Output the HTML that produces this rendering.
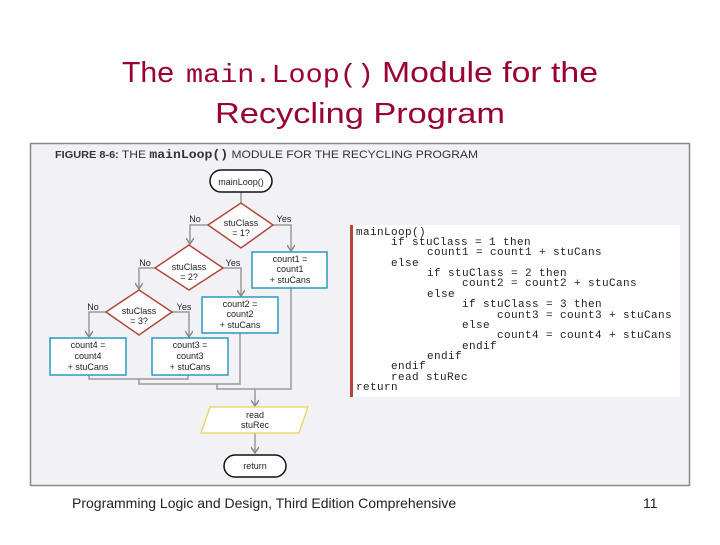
<!DOCTYPE html>
<html><head><meta charset="utf-8"><style>
body{margin:0;width:720px;height:540px;background:#fff;overflow:hidden;font-family:"Liberation Sans",sans-serif}
</style></head><body>
<svg width="720" height="540" xmlns="http://www.w3.org/2000/svg" font-family="Liberation Sans, sans-serif">
<defs><marker id="a" markerWidth="8" markerHeight="8" refX="7" refY="4" orient="auto" markerUnits="userSpaceOnUse"><path d="M1,0 L7,4 L1,8" fill="none" stroke="#888" stroke-width="1.5"/></marker></defs>
<g fill="#990033" font-size="29">
<text x="122" y="82" textLength="52" lengthAdjust="spacingAndGlyphs">The</text>
<text x="186" y="82" font-family="Liberation Mono, monospace" font-size="26" textLength="188" lengthAdjust="spacingAndGlyphs">main.Loop()</text>
<text x="382" y="82" textLength="216" lengthAdjust="spacingAndGlyphs">Module for the</text>
<text x="215" y="123" textLength="290" lengthAdjust="spacingAndGlyphs">Recycling Program</text>
</g>
<rect x="30.5" y="143.5" width="659" height="342" fill="#f2f2f6" stroke="#888" stroke-width="1.5"/>
<text x="55" y="158" font-size="11" fill="#333" textLength="423" lengthAdjust="spacingAndGlyphs"><tspan font-weight="bold" font-size="10">FIGURE 8-6:</tspan> THE <tspan font-family="Liberation Mono, monospace" font-weight="bold" font-size="12">mainLoop()</tspan> MODULE FOR THE RECYCLING PROGRAM</text>
<rect x="350" y="225" width="330" height="172" fill="#fff"/>
<rect x="350" y="225" width="3" height="172" fill="#b0473a"/>
<g font-family="Liberation Mono, monospace" font-size="11" letter-spacing="0.4" fill="#222">
<text x="356" y="235">mainLoop()</text>
<text x="391" y="245">if stuClass = 1 then</text>
<text x="427" y="255">count1 = count1 + stuCans</text>
<text x="391" y="266">else</text>
<text x="427" y="276">if stuClass = 2 then</text>
<text x="462" y="286">count2 = count2 + stuCans</text>
<text x="427" y="297">else</text>
<text x="462" y="307">if stuClass = 3 then</text>
<text x="497" y="318">count3 = count3 + stuCans</text>
<text x="462" y="328">else</text>
<text x="497" y="338">count4 = count4 + stuCans</text>
<text x="462" y="349">endif</text>
<text x="427" y="359">endif</text>
<text x="391" y="369">endif</text>
<text x="391" y="380">read stuRec</text>
<text x="356" y="390">return</text>
</g>
<g fill="none" stroke="#999" stroke-width="1.5">
<path d="M241,192 V203"/>
<path d="M208,225 H190 V244" marker-end="url(#a)"/>
<path d="M272,225 H291 V251" marker-end="url(#a)"/>
<path d="M155,268 H139 V289" marker-end="url(#a)"/>
<path d="M223,268 H241 V296" marker-end="url(#a)"/>
<path d="M106,312 H89 V337" marker-end="url(#a)"/>
<path d="M172,312 H189 V337" marker-end="url(#a)"/>
<path d="M89,375 V379 H188 V375"/>
<path d="M139,379 V384 H240 V333"/>
<path d="M217,384 V389 H291 V288"/>
<path d="M255,389 V406" marker-end="url(#a)"/>
<path d="M255,433 V453" marker-end="url(#a)"/>
</g>
<g font-size="9" fill="#222" text-anchor="middle">
<rect x="210" y="170" width="62" height="22" rx="11" fill="#fff" stroke="#111" stroke-width="1.5"/>
<text x="241" y="185">mainLoop()</text>
<polygon points="241,203 273,225 241,248 208,225" fill="#fff" stroke="#b0473a" stroke-width="1.5"/>
<text x="241" y="226">stuClass</text><text x="241" y="236">= 1?</text>
<polygon points="189,245 223,268 189,290 155,268" fill="#fff" stroke="#b0473a" stroke-width="1.5"/>
<text x="189" y="270">stuClass</text><text x="189" y="280">= 2?</text>
<polygon points="139,290 172,312 139,335 106,312" fill="#fff" stroke="#b0473a" stroke-width="1.5"/>
<text x="139" y="314">stuClass</text><text x="139" y="324">= 3?</text>
<text x="195" y="222">No</text><text x="284" y="222">Yes</text>
<text x="145" y="266">No</text><text x="233" y="266">Yes</text>
<text x="93" y="310">No</text><text x="184" y="310">Yes</text>
<g fill="#fff" stroke="#2a9ac0" stroke-width="1.5">
<rect x="252" y="252" width="75" height="36"/>
<rect x="202" y="297" width="76" height="36"/>
<rect x="50" y="338" width="76" height="37"/>
<rect x="152" y="338" width="76" height="37"/>
</g>
<text x="290" y="262">count1 =</text><text x="290" y="272">count1</text><text x="290" y="283">+ stuCans</text>
<text x="240" y="307">count2 =</text><text x="240" y="317">count2</text><text x="240" y="328">+ stuCans</text>
<text x="88" y="348">count4 =</text><text x="88" y="359">count4</text><text x="88" y="370">+ stuCans</text>
<text x="190" y="348">count3 =</text><text x="190" y="359">count3</text><text x="190" y="370">+ stuCans</text>
<polygon points="210,407 308,407 299,433 201,433" fill="#fff" stroke="#e8d870" stroke-width="1.5"/>
<text x="255" y="418">read</text><text x="255" y="428">stuRec</text>
<rect x="224" y="455" width="62" height="22" rx="11" fill="#fff" stroke="#111" stroke-width="1.5"/>
<text x="255" y="469">return</text>
</g>
<text x="72" y="508" font-size="14" fill="#222">Programming Logic and Design, Third Edition Comprehensive</text>
<text x="643" y="508" font-size="14" fill="#222">11</text>
</svg>
</body></html>
